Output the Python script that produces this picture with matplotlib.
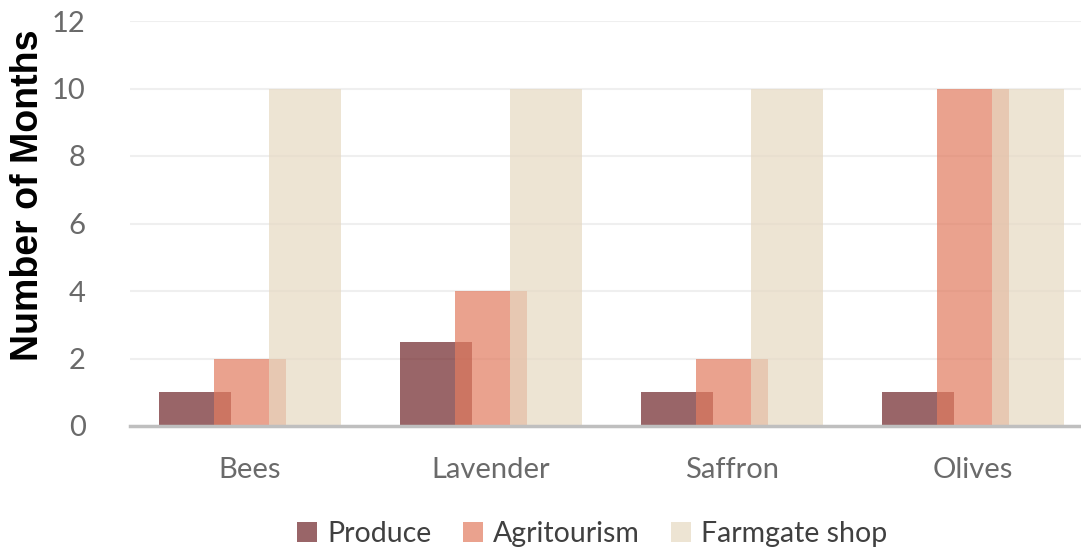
import matplotlib
matplotlib.use("Agg")
import matplotlib.pyplot as plt
import numpy as np
from matplotlib.patches import Patch

categories = ["Bees", "Lavender", "Saffron", "Olives"]
series_names = ["Produce", "Agritourism", "Farmgate shop"]
produce = [1, 2.5, 1, 1]
agritourism = [2, 4, 2, 10]
farmgate = [10, 10, 10, 10]
yticks = [0, 2, 4, 6, 8, 10, 12]

colors = ["#70262a", "#e27c60", "#e6d9c2"]
alpha = 0.71

fig = plt.figure(figsize=(10.81, 5.52), dpi=100)
ax = fig.add_axes([130/1081, 1-426/552, (1081-130)/1081, (426-21)/552])

x = np.arange(len(categories))
w = 0.30
off = 0.228
for i, (vals, c) in enumerate(zip([produce, agritourism, farmgate], colors)):
    ax.bar(x + (i-1)*off, vals, width=w, color=c, alpha=alpha, zorder=2+i, linewidth=0)

ax.set_xlim(-0.498, 3.448)
ax.set_ylim(0, 12)
ax.set_yticks(yticks)
ax.set_xticks(x)
ax.set_xticklabels(categories)
for lab in ax.get_xticklabels() + ax.get_yticklabels():
    lab.set_fontfamily("Lato"); lab.set_fontweight("normal"); lab.set_fontsize(21); lab.set_color("#6a6a6a")
ax.tick_params(axis="both", length=0)
ax.tick_params(axis="y", pad=32)
ax.tick_params(axis="x", pad=22)
ax.grid(axis="y", color="#efefef", linewidth=1.5, zorder=0)
ax.set_axisbelow(True)
for s in ["top", "right", "left"]:
    ax.spines[s].set_visible(False)
ax.spines["bottom"].set_color("#bfbfbf")
ax.spines["bottom"].set_linewidth(2.5)
ax.spines["bottom"].set_zorder(10)

fig.text(28/1081, 1-195/552, "Number of Months", rotation=90, ha="center", va="center",
         fontfamily="Liberation Sans", fontweight="bold", fontsize=27, color="black")

handles = [Patch(facecolor=c, alpha=alpha, edgecolor="none") for c in colors]
leg = fig.legend(handles, series_names, loc="center", bbox_to_anchor=(592/1081, 1-534/552),
                 ncol=3, frameon=False, handlelength=0.7, handleheight=0.7,
                 handletextpad=0.35, columnspacing=1.1,
                 prop=dict(family="Lato", weight="normal", size=20.5))
for t in leg.get_texts():
    t.set_color("#404040")

fig.savefig("out.png", dpi=100)
